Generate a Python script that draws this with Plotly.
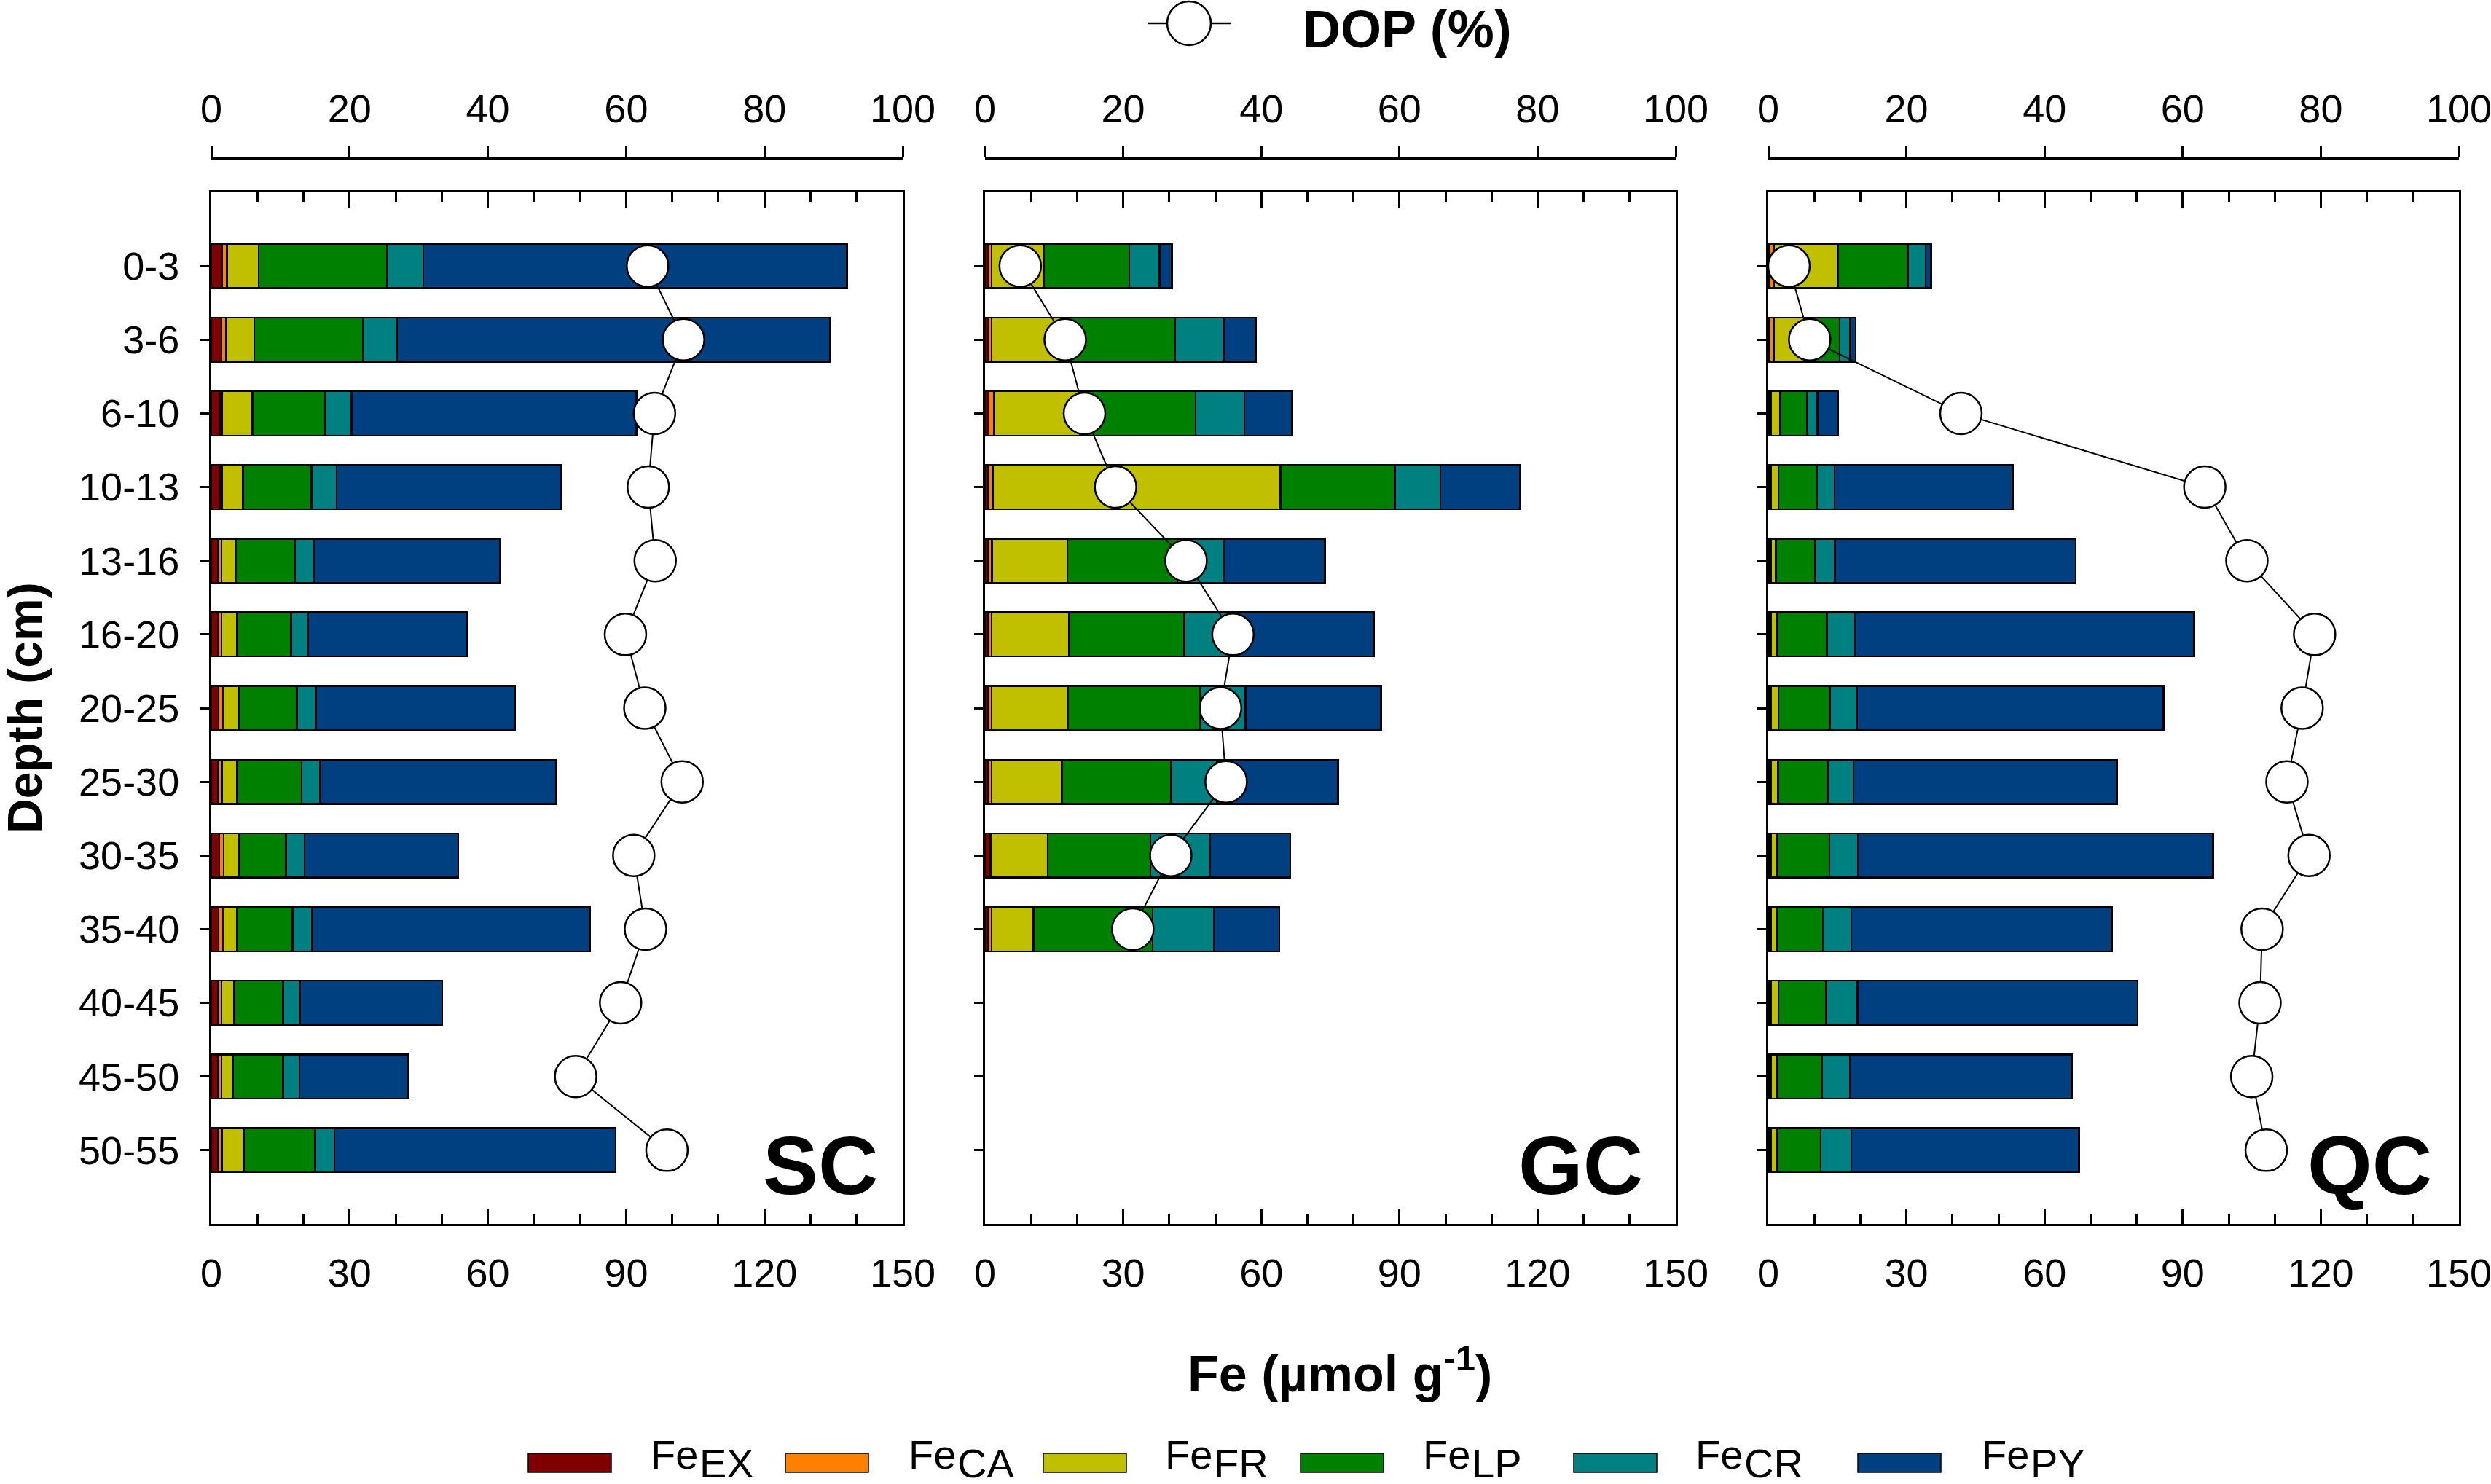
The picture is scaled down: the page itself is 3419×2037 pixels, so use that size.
import plotly.graph_objects as go

W, H = 3419, 2037

depths = ["0-3", "3-6", "6-10", "10-13", "13-16", "16-20", "20-25",
          "25-30", "30-35", "35-40", "40-45", "45-50", "50-55"]

# SC core
sc_ex = [2.4, 2.2, 1.8, 1.8, 1.5, 1.4, 1.6, 1.5, 1.7, 1.6, 1.5, 1.5, 1.5]
sc_ca = [1.0, 1.0, 0.6, 0.6, 0.7, 0.8, 0.9, 0.8, 1.0, 0.9, 0.7, 0.7, 0.8]
sc_fr = [6.9, 6.1, 6.5, 4.5, 3.2, 3.4, 3.4, 3.3, 3.4, 3.0, 2.8, 2.5, 4.7]
sc_lp = [27.8, 23.6, 15.8, 14.8, 12.8, 11.7, 12.7, 14.0, 10.1, 12.1, 10.6, 10.9, 15.5]
sc_cr = [7.9, 7.4, 5.7, 5.5, 4.1, 3.7, 4.1, 4.0, 4.0, 4.3, 3.6, 3.5, 4.2]
sc_py = [91.9, 93.9, 61.8, 48.7, 40.4, 34.5, 43.2, 51.2, 33.4, 60.2, 30.9, 23.6, 61.0]
sc_dop = [63.1, 68.3, 64.1, 63.2, 64.2, 59.9, 62.7, 68.1, 61.1, 62.8, 59.2, 52.7, 65.9]

# GC core (0-40 cm)
gc_ex = [0.6, 0.6, 0.6, 0.7, 0.7, 0.7, 0.7, 0.7, 1.1, 0.7]
gc_ca = [0.8, 0.8, 1.4, 1.0, 0.8, 0.7, 0.7, 0.7, 0.2, 0.7]
gc_fr = [11.4, 15.2, 18.6, 62.5, 16.4, 16.9, 16.6, 15.3, 12.3, 9.1]
gc_lp = [18.5, 24.7, 25.1, 24.8, 23.9, 25.0, 28.7, 23.7, 22.3, 25.9]
gc_cr = [6.6, 10.5, 10.6, 9.9, 10.1, 9.7, 9.9, 10.0, 13.0, 13.3]
gc_py = [2.7, 7.0, 10.4, 17.3, 21.9, 31.4, 29.4, 26.3, 17.4, 14.2]
gc_dop = [5.1, 11.6, 14.4, 18.9, 29.1, 35.9, 34.1, 34.9, 26.9, 21.4]

# QC core
qc_ex = [0.3, 0.3, 0.3, 0.3, 0.3, 0.3, 0.3, 0.3, 0.3, 0.3, 0.3, 0.3, 0.3]
qc_ca = [1.0, 0.9, 0.3, 0.3, 0.3, 0.3, 0.3, 0.3, 0.3, 0.3, 0.3, 0.3, 0.3]
qc_fr = [13.8, 7.7, 2.0, 1.6, 1.1, 1.4, 1.6, 1.5, 1.4, 1.3, 1.6, 1.4, 1.4]
qc_lp = [15.2, 6.6, 5.9, 8.4, 8.5, 10.7, 11.2, 10.8, 11.3, 10.0, 10.4, 9.7, 9.4]
qc_cr = [3.9, 2.3, 2.2, 3.8, 4.3, 6.1, 5.9, 5.6, 6.2, 6.1, 6.8, 6.0, 6.6]
qc_py = [1.2, 1.2, 4.5, 38.7, 52.3, 73.7, 66.5, 57.2, 77.1, 56.6, 60.8, 48.2, 49.5]
qc_dop = [3.0, 6.0, 27.9, 63.2, 69.3, 79.1, 77.3, 75.1, 78.3, 71.5, 71.2, 70.0, 72.1]

fractions = ["EX", "CA", "FR", "LP", "CR", "PY"]
colors = ["#800000", "#FF8000", "#C0C000", "#008000", "#008080", "#004080"]
panel_names = ["SC", "GC", "QC"]
fe_ticks = [0, 30, 60, 90, 120, 150]
dop_ticks = [0, 20, 40, 60, 80, 100]

panels = [
    (sc_ex, sc_ca, sc_fr, sc_lp, sc_cr, sc_py, sc_dop),
    (gc_ex, gc_ca, gc_fr, gc_lp, gc_cr, gc_py, gc_dop),
    (qc_ex, qc_ca, qc_fr, qc_lp, qc_cr, qc_py, qc_dop),
]

FONT = "Liberation Sans, Arial, Helvetica, sans-serif"
px_l = [290, 1352, 2427]
px_r = [1239, 2300, 3375]
box_top, box_bot = 264, 1680
ydom = [1 - box_bot / H, 1 - box_top / H]
dop_axis_y = 1 - 217 / H

fig = go.Figure()
layout = {}
for i, data in enumerate(panels):
    xa = "x" if i == 0 else f"x{i+1}"
    ya = "y" if i == 0 else f"y{i+1}"
    xd = f"x{i+4}"
    n = len(data[0])
    ypos = list(range(n))
    for k in range(6):
        fig.add_trace(go.Bar(
            x=data[k], y=ypos, orientation="h", width=0.6,
            marker=dict(color=colors[k], line=dict(color="black", width=2.5)),
            xaxis=xa, yaxis=ya, showlegend=False, name="Fe" + fractions[k]))
    fig.add_trace(go.Scatter(
        x=data[6], y=ypos, mode="lines+markers",
        line=dict(color="black", width=2),
        marker=dict(symbol="circle", size=57, color="white",
                    line=dict(color="black", width=2.5)),
        xaxis=xd, yaxis=ya, showlegend=False, name="DOP (%)"))

    dom = [px_l[i] / W, px_r[i] / W]
    kx = "xaxis" if i == 0 else f"xaxis{i+1}"
    ky = "yaxis" if i == 0 else f"yaxis{i+1}"
    layout[kx] = dict(
        domain=dom, range=[0, 150], anchor=ya, tickvals=fe_ticks,
        ticks="inside", ticklen=21, tickwidth=2.5, tickcolor="black",
        minor=dict(dtick=10, ticks="inside", ticklen=13, tickwidth=2.5, tickcolor="black"),
        showline=True, linewidth=3, linecolor="black", mirror="ticks",
        showgrid=False, zeroline=False, automargin=False,
        ticklabeloverflow="allow",
        tickfont=dict(family=FONT, size=54, color="black"),
        ticklabelstandoff=18)
    layout[ky] = dict(
        domain=ydom, range=[13, -1], anchor=xa,
        tickvals=list(range(len(depths))), ticktext=depths,
        showticklabels=(i == 0),
        ticks="outside", ticklen=12, tickwidth=2.5, tickcolor="black",
        showline=True, linewidth=3, linecolor="black", mirror=True,
        showgrid=False, zeroline=False, automargin=False,
        tickfont=dict(family=FONT, size=54, color="black"),
        ticklabelstandoff=18)
    layout[f"xaxis{i+4}"] = dict(
        domain=dom, overlaying=xa, side="top", anchor="free", position=dop_axis_y,
        range=[0, 100], tickvals=dop_ticks,
        ticks="outside", ticklen=16, tickwidth=2.5, tickcolor="black",
        showline=True, linewidth=3, linecolor="black",
        showgrid=False, zeroline=False, automargin=False,
        ticklabeloverflow="allow",
        tickfont=dict(family=FONT, size=54, color="black"),
        ticklabelstandoff=10)

annotations = []
shapes = []
# panel labels
lab_r = [1207, 2257, 3340]
for i, nm in enumerate(panel_names):
    annotations.append(dict(
        text=f"<b>{nm}</b>", xref="paper", yref="paper",
        x=lab_r[i] / W, y=1 - 1599 / H, xanchor="right", yanchor="middle",
        showarrow=False, font=dict(family=FONT, size=114, color="black")))

# axis titles
annotations.append(dict(
    text="<b>Fe (µmol g<sup>-1</sup>)</b>", xref="paper", yref="paper",
    x=1839 / W, y=1 - 1881 / H, xanchor="center", yanchor="middle",
    showarrow=False, font=dict(family=FONT, size=70, color="black")))
annotations.append(dict(
    text="<b>Depth (cm)</b>", xref="paper", yref="paper",
    x=34 / W, y=1 - 972 / H, xanchor="center", yanchor="middle", textangle=-90,
    showarrow=False, font=dict(family=FONT, size=66, color="black")))

# DOP legend (top)
shapes.append(dict(type="line", xref="paper", yref="paper",
                   x0=1575 / W, x1=1690 / W, y0=1 - 32 / H, y1=1 - 32 / H,
                   line=dict(color="black", width=2.5)))
shapes.append(dict(type="circle", xref="paper", yref="paper",
                   x0=1602 / W, x1=1662 / W, y0=1 - 62 / H, y1=1 - 2 / H,
                   fillcolor="white", line=dict(color="black", width=2.5)))
annotations.append(dict(
    text="<b>DOP (%)</b>", xref="paper", yref="paper",
    x=1786 / W, y=1 - 40 / H, xanchor="left", yanchor="middle",
    showarrow=False, font=dict(family=FONT, size=72, color="black")))

# Fe fraction legend (bottom)
sw_l = [725, 1078, 1432, 1785, 2160, 2550]
tx_l = [891, 1245, 1597, 1951, 2325, 2718]
for k in range(6):
    shapes.append(dict(type="rect", xref="paper", yref="paper",
                       x0=sw_l[k] / W, x1=(sw_l[k] + 114) / W,
                       y0=1 - 2021 / H, y1=1 - 1995 / H,
                       fillcolor=colors[k], line=dict(color="black", width=1.5)))
    annotations.append(dict(
        text="Fe", xref="paper", yref="paper",
        x=tx_l[k] / W, y=1 - 1996 / H, xanchor="left", yanchor="middle",
        showarrow=False, font=dict(family=FONT, size=56, color="black")))
    annotations.append(dict(
        text=fractions[k], xref="paper", yref="paper",
        x=(tx_l[k] + 67) / W, y=1 - 2008 / H, xanchor="left", yanchor="middle",
        showarrow=False, font=dict(family=FONT, size=56, color="black")))

fig.update_layout(
    width=W, height=H, margin=dict(l=0, r=0, t=0, b=0, autoexpand=False),
    paper_bgcolor="white", plot_bgcolor="white",
    barmode="stack", bargap=0.4, showlegend=False,
    font=dict(family=FONT, color="black"),
    annotations=annotations, shapes=shapes, **layout)

fig.write_html("out.html", config={"displayModeBar": False},
               post_script="document.body.style.margin='0';document.body.style.overflow='hidden';")
